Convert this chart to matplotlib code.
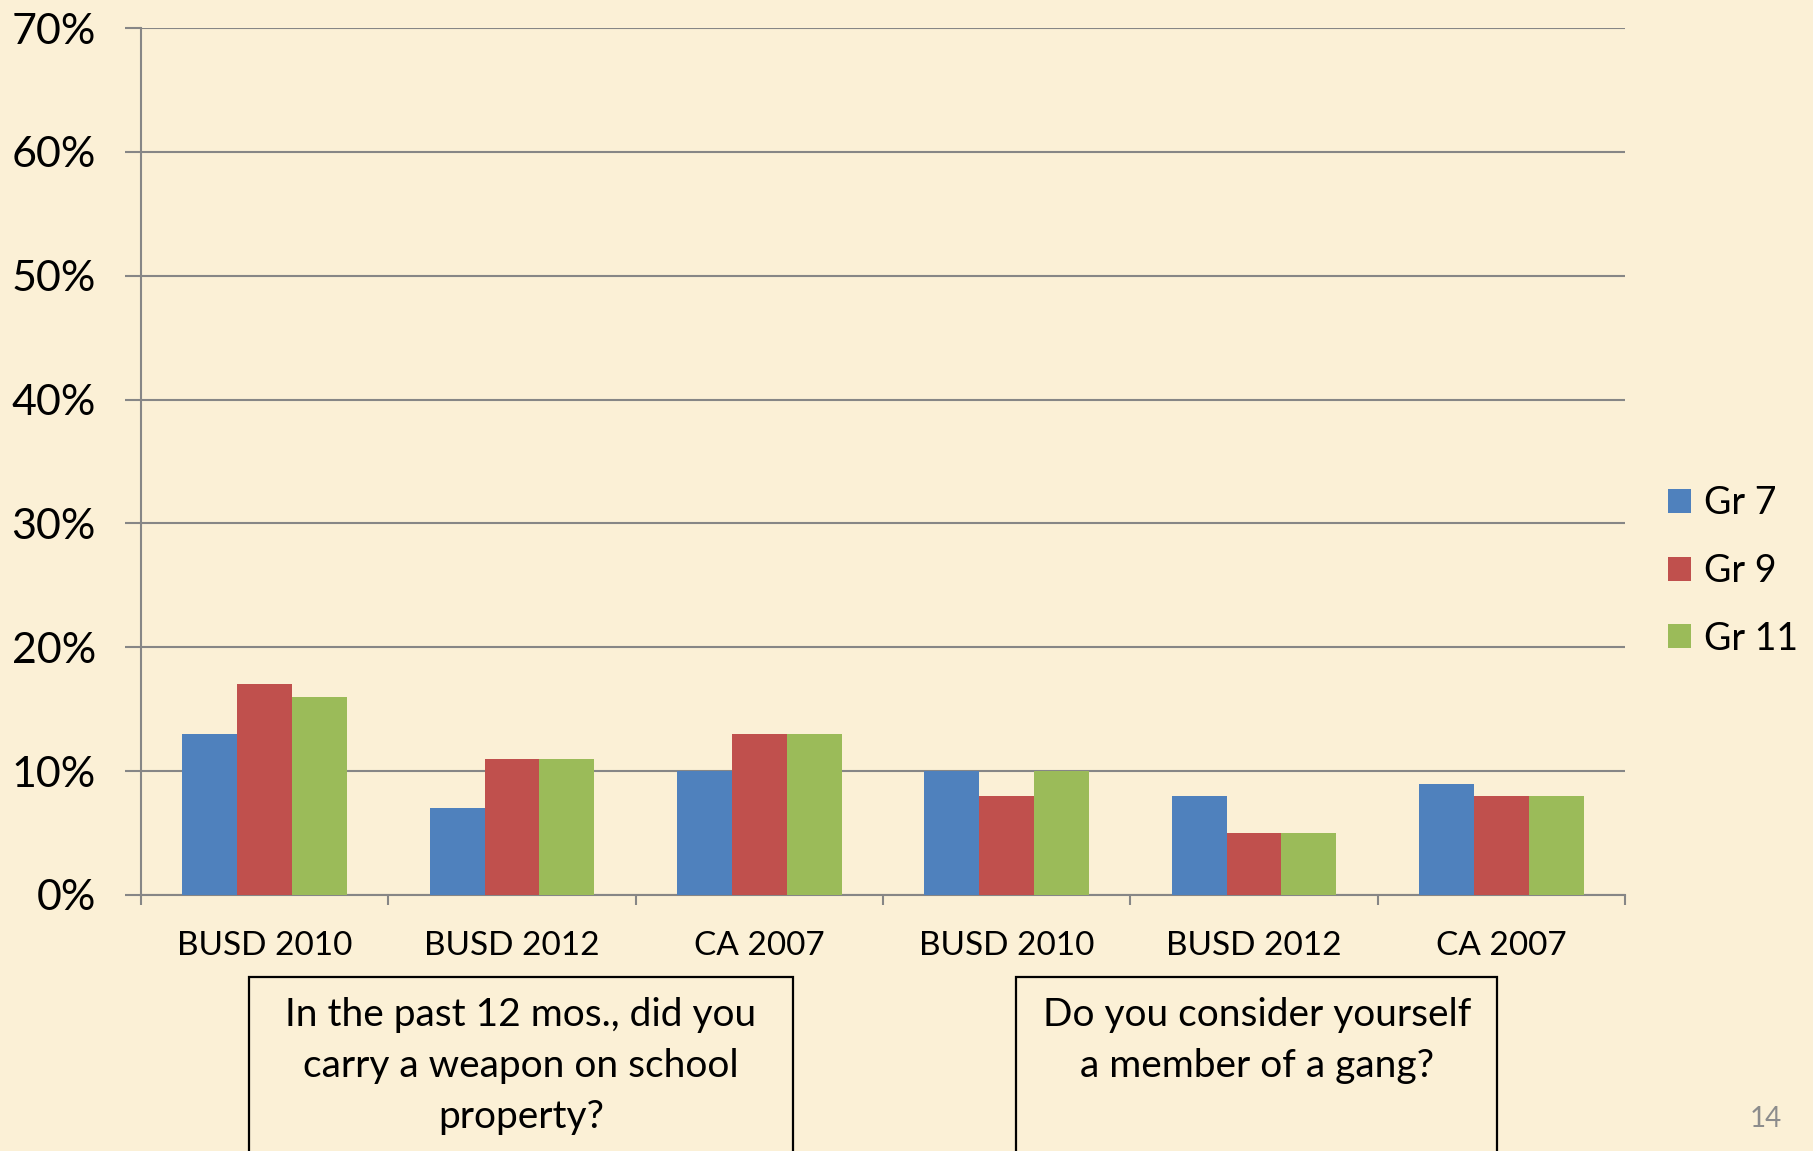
import matplotlib
matplotlib.use("Agg")
import matplotlib.pyplot as plt
import numpy as np
from matplotlib.patches import Rectangle

categories = ["BUSD 2010", "BUSD 2012", "CA 2007", "BUSD 2010", "BUSD 2012", "CA 2007"]
series_names = ["Gr 7", "Gr 9", "Gr 11"]
gr7 = [13, 7, 10, 10, 8, 9]
gr9 = [17, 11, 13, 8, 5, 8]
gr11 = [16, 11, 13, 10, 5, 8]
yticks = [0, 10, 20, 30, 40, 50, 60, 70]
ytick_labels = ["0%", "10%", "20%", "30%", "40%", "50%", "60%", "70%"]
question1 = "In the past 12 mos., did you\ncarry a weapon on school\nproperty?"
question2 = "Do you consider yourself\na member of a gang?"
page_number = "14"

colors = ["#4F81BD", "#C0504D", "#9BBB59"]
bg = "#FBF0D6"
grid_c = "#868686"

plt.rcParams['font.family'] = ['Lato', 'DejaVu Sans']

W, H = 1813, 1151
fig = plt.figure(figsize=(W / 100, H / 100), dpi=100, facecolor=bg)
ax = fig.add_axes([141 / W, 1 - 895 / H, (1625 - 141) / W, (895 - 28) / H])
ax.set_facecolor("none")

x = np.arange(len(categories))
bw = 0.222
for i, (vals, name) in enumerate(zip([gr7, gr9, gr11], series_names)):
    ax.bar(x + (i - 1) * bw, vals, width=bw, color=colors[i], label=name, zorder=3)

ax.set_xlim(-0.5, len(categories) - 0.5)
ax.set_ylim(0, 70)
ax.set_yticks(yticks)
ax.set_yticklabels(ytick_labels, fontsize=31)
ax.yaxis.grid(True, color=grid_c, linewidth=1.5, zorder=0)
ax.set_axisbelow(True)
ax.tick_params(axis='y', length=11.5, width=1.5, color=grid_c, pad=21)

ax.set_xticks(x)
ax.set_xticklabels(categories, fontsize=24)
ax.set_xticks(np.arange(-0.5, len(categories), 1.0), minor=True)
ax.tick_params(axis='x', which='major', length=0, pad=26)
ax.tick_params(axis='x', which='minor', length=7, width=1.5, color=grid_c)

for s in ["top", "right"]:
    ax.spines[s].set_visible(False)
for s in ["left", "bottom"]:
    ax.spines[s].set_color(grid_c)
    ax.spines[s].set_linewidth(1.5)

leg = fig.legend(loc='center left', bbox_to_anchor=(1668 / W, 1 - 571 / H),
                 fontsize=27, frameon=False, handlelength=0.62, handleheight=0.62,
                 handletextpad=0.35, labelspacing=0.84, borderpad=0, borderaxespad=0)

# question boxes
fig.patches.append(Rectangle((249 / W, -0.05), (793 - 249) / W, 0.05 + 1 - 977 / H,
                             transform=fig.transFigure, fill=False, edgecolor="black",
                             linewidth=1.6))
fig.patches.append(Rectangle((1016 / W, -0.05), (1497 - 1016) / W, 0.05 + 1 - 977 / H,
                             transform=fig.transFigure, fill=False, edgecolor="black",
                             linewidth=1.6))
fig.text(521 / W, 1 - 997 / H, question1, ha='center', va='top', fontsize=28,
         linespacing=1.51)
fig.text(1257 / W, 1 - 997 / H, question2, ha='center', va='top', fontsize=28,
         linespacing=1.51)
fig.text(1766 / W, 1 - 1119 / H, page_number, ha='center', va='center', fontsize=20,
         color="#8C8C8C")

fig.savefig("out.png", dpi=100, facecolor=bg)
